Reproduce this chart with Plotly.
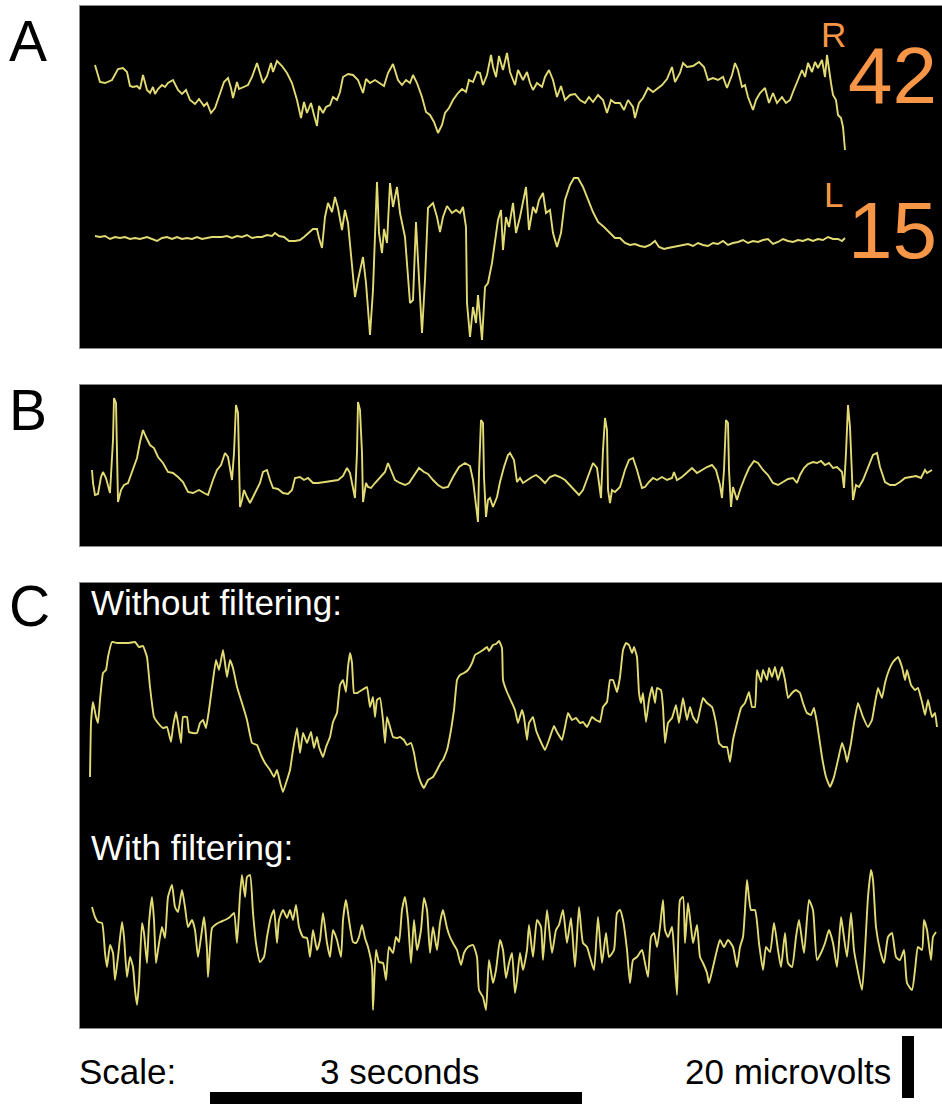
import plotly.graph_objects as go

# ---------------- data ----------------
FS = 124.0            # samples per second (time base)
GAIN = 20.0 / 62.0    # microvolts per count

# Panel A, right channel
A_R_SAMPLES = [15,20,25,32,38,43,47,50,53,57,60,63,67,70,73,75,78,82,85,88,93,98,102,106,110,115,119,124,127,131,135,139,144,148,151,153,157,159,164,168,172,177,180,183,187,191,193,197,202,207,212,217,221,224,227,231,234,237,239,243,246,250,253,257,260,263,268,273,278,283,286,290,295,300,304,308,313,318,322,326,330,333,337,342,346,350,354,358,362,365,369,373,378,382,386,389,393,397,400,403,407,411,413,416,419,423,427,430,435,438,443,447,450,453,457,462,465,469,473,477,481,485,490,495,500,505,509,513,518,523,527,531,535,540,544,548,553,555,559,563,568,573,577,582,587,592,595,600,603,607,613,619,624,628,633,638,643,647,652,655,658,662,665,668,673,676,680,685,689,693,697,702,706,710,713,717,722,725,728,732,735,738,742,745,747,751,753,756,758,761,763,765]
A_R_COUNTS = [25,8,7,10,21,22,18,4,3,4,1,15,0,-3,3,-4,1,5,3,7,10,0,-4,0,-10,-14,-9,-16,-13,-23,-18,-7,8,12,2,-8,8,1,3,5,13,27,17,7,14,27,18,29,24,17,7,-10,-28,-12,-23,-13,-25,-36,-16,-23,-17,-15,-7,-10,-2,13,16,15,10,-3,11,7,10,7,4,17,26,10,5,10,7,15,7,-7,-22,-25,-32,-43,-35,-23,-18,-10,-3,1,-2,10,8,18,17,5,15,35,23,13,34,20,37,18,5,20,10,18,7,0,7,3,13,20,10,-7,4,-10,-5,-4,-10,-13,-7,-12,-5,-10,-23,-10,-13,-13,-20,-10,-17,-28,-13,-8,2,-2,1,5,11,23,8,17,27,23,24,28,23,10,12,10,13,2,15,27,20,3,5,-7,-20,-10,-3,2,-13,-3,-13,-7,-13,-10,-2,7,20,13,27,18,28,22,30,13,35,7,-5,-10,-25,-28,-37,-60]

# Panel A, left channel
A_L_SAMPLES = [15,20,25,30,35,40,45,50,55,60,67,72,77,82,87,92,97,102,107,112,117,122,127,132,137,142,147,152,157,162,167,172,177,182,187,192,195,199,204,209,215,220,224,229,233,237,239,242,245,248,252,255,258,262,265,268,272,275,278,283,286,290,293,297,299,302,304,307,310,313,317,320,325,330,333,336,338,342,345,348,353,357,360,363,367,372,376,380,383,386,387,390,393,396,398,402,405,408,412,415,418,421,423,426,429,433,436,440,443,446,449,453,456,459,463,466,470,473,477,481,485,490,494,498,503,507,513,518,524,530,535,540,545,550,555,560,565,570,575,579,584,588,593,598,603,608,613,618,623,628,633,638,643,648,653,658,663,668,673,678,683,688,693,698,703,708,713,718,723,728,733,738,743,748,753,758,762,765]
A_L_COUNTS = [1,0,1,-2,0,-1,0,-2,-1,-2,0,-2,-4,-1,0,-2,0,-2,-1,-2,0,-2,-1,0,0,0,1,-1,1,0,2,-1,0,0,2,1,4,1,0,-4,-4,-3,0,4,8,8,-1,-11,20,34,25,40,29,7,27,14,-26,-60,-43,-20,-46,-98,-53,55,4,-16,8,-6,54,30,50,24,0,-66,-63,15,-23,-96,-43,29,34,20,5,20,31,24,27,24,30,10,-66,-100,-70,-86,-58,-103,-50,-46,-26,-3,17,27,-13,20,10,34,4,20,37,50,7,30,24,37,44,24,27,4,-10,4,37,52,59,59,50,40,25,15,10,4,-1,-1,-6,-8,-7,-9,-10,-8,-4,-10,-12,-11,-10,-9,-8,-7,-9,-6,-8,-9,-6,-7,-4,-8,-6,-5,-3,-6,-4,-5,-3,-2,-7,-5,-2,-4,-5,-3,-4,-2,-4,-2,-3,0,-2,-2,-4,-1]

# Panel B
B_SAMPLES = [12,13,15,18,21,23,26,28,30,33,34,36,37,38,41,44,48,53,57,60,63,66,70,74,78,83,88,93,98,103,108,113,119,124,128,133,137,141,145,148,152,154,156,158,159,160,162,164,167,170,175,180,183,187,190,193,198,203,208,212,215,220,224,228,233,238,245,252,258,263,267,270,273,275,277,278,280,282,283,286,288,291,295,300,305,308,311,315,320,325,329,334,339,344,348,353,358,363,368,373,379,385,390,393,396,398,399,401,403,404,406,408,410,413,417,420,424,428,430,434,437,440,443,447,452,456,460,465,470,475,480,485,490,495,499,503,508,513,517,519,521,523,525,527,528,530,532,535,540,545,549,553,557,562,565,569,573,577,582,587,592,594,597,602,607,612,617,622,627,632,636,640,642,644,646,648,649,651,653,657,660,665,669,674,678,683,688,693,698,703,708,713,717,720,724,728,733,737,741,745,749,753,757,762,764,766,768,770,772,773,776,779,783,788,793,797,800,805,810,815,820,825,830,836,841,845,847,852]
B_COUNTS = [10,-3,-15,-14,3,8,2,-5,-13,40,82,77,27,-22,-10,-5,-3,10,22,38,50,43,35,32,23,17,8,7,3,-2,-12,-13,-10,-13,-15,0,10,15,27,23,0,27,75,67,10,-27,-20,-10,-17,-23,-13,-3,8,10,0,-8,-9,-13,-14,-10,2,3,0,2,-3,-3,-2,-1,0,4,12,7,-8,-18,28,78,70,27,-22,-3,-7,-8,-3,3,8,17,10,0,-3,-5,-3,4,12,8,6,0,-5,-8,-7,3,13,17,14,0,-23,-42,7,60,57,3,-37,-20,-18,-27,-17,-2,13,25,27,20,-2,2,-3,0,3,5,2,-3,3,5,3,0,-5,-10,-15,-10,3,17,12,-3,-18,30,62,50,-10,-23,-10,-12,-7,10,20,22,10,-8,-7,-2,2,0,3,0,2,8,0,3,8,12,7,10,13,15,10,-5,-18,10,60,57,10,-27,-7,-20,-10,3,12,19,17,10,5,-3,-5,-2,1,2,-3,5,12,16,18,17,19,15,17,12,13,8,-8,27,75,53,0,-20,-5,-7,0,13,25,27,13,-2,-5,-5,-2,2,3,4,2,10,7,10]

# Panel C, without filtering
C_RAW_SAMPLES = [10,11,13,16,18,20,23,26,28,32,37,42,48,55,59,63,67,70,74,78,83,87,91,93,96,98,101,103,107,109,113,117,120,123,126,129,133,136,139,143,145,147,150,153,157,162,167,172,177,181,185,190,194,197,200,203,207,210,213,217,220,223,227,231,234,237,239,243,246,250,253,257,260,263,266,268,270,272,274,277,282,287,290,293,295,297,300,303,305,307,310,313,317,320,324,327,331,334,337,341,344,348,353,357,361,363,367,371,374,377,380,384,388,392,395,400,403,407,409,413,416,419,422,423,427,432,435,438,442,444,447,449,453,456,460,465,469,474,477,482,485,488,492,496,500,503,507,512,516,520,523,527,530,533,537,540,543,546,549,552,554,557,559,561,563,566,569,572,575,577,581,583,585,588,592,596,599,603,607,610,613,617,620,623,627,632,636,639,643,647,650,653,657,661,665,669,672,675,677,681,683,687,689,692,695,698,702,705,708,712,716,720,723,727,731,734,737,742,746,750,754,758,762,765,767,771,774,778,783,788,792,795,798,802,805,809,813,818,822,825,827,831,835,838,842,845,848,852,855,857]
C_RAW_COUNTS = [-57,-3,18,3,-3,20,47,50,63,78,77,77,77,78,73,74,63,33,3,-3,-8,-7,-22,-7,8,-3,-23,3,3,-12,-13,-13,-3,0,-8,10,40,60,50,70,57,43,60,52,33,17,0,-23,-25,-35,-43,-50,-57,-50,-62,-72,-60,-50,-30,-8,-33,-13,-23,-12,-28,-17,-27,-37,-27,-17,-2,7,35,40,28,53,67,57,27,27,30,33,13,23,3,20,22,0,-23,3,-7,-17,-18,-17,-20,-25,-23,-33,-50,-63,-68,-60,-57,-50,-42,-40,-30,-10,10,40,45,47,50,57,65,68,70,73,69,75,76,79,72,40,28,17,10,-3,10,3,-20,-3,3,-10,-20,-30,-20,-6,-12,-20,-7,7,0,2,-3,-2,-7,3,0,-2,13,18,40,40,28,43,70,77,75,67,73,63,27,17,27,-2,20,33,17,32,30,13,-23,-3,2,15,-3,22,0,13,3,-3,10,22,17,13,-3,-23,-27,-27,-42,-20,-3,12,17,28,13,13,50,38,50,40,52,43,53,40,53,40,22,27,30,27,17,7,5,12,-3,-37,-57,-67,-57,-40,-23,-32,-42,-23,-3,17,3,-7,0,17,32,22,37,50,58,63,53,40,50,35,30,32,18,5,20,3,7,-7]

# Panel C, with filtering
C_FILT_SAMPLES = [12,15,18,22,25,27,30,33,35,38,42,44,47,50,53,55,57,59,62,64,67,69,72,74,76,78,82,85,88,92,95,98,102,105,108,112,115,118,122,124,127,128,132,135,140,145,150,154,157,160,162,165,167,170,173,176,180,184,187,191,194,197,199,203,207,210,213,216,219,223,227,230,233,237,240,243,247,250,253,257,261,263,266,269,273,276,279,282,285,288,292,293,296,299,303,306,309,313,316,319,322,325,328,331,334,337,341,344,347,350,353,357,360,363,367,370,373,377,381,384,388,393,397,399,403,406,409,413,416,420,423,426,429,432,435,437,440,443,447,449,453,457,461,463,467,472,476,479,483,487,491,495,499,503,507,510,514,518,522,526,529,534,537,540,543,547,550,553,557,562,565,568,571,574,577,580,583,585,588,592,594,597,600,603,605,608,611,613,617,620,623,627,629,633,637,640,644,648,653,657,660,663,665,667,671,675,679,683,686,690,694,698,701,705,708,712,716,719,724,729,733,737,741,745,749,753,757,761,763,767,771,774,777,782,785,788,791,793,796,800,804,808,812,816,820,824,827,832,835,838,842,844,847,851,853,856]
C_FILT_COUNTS = [33,23,18,17,-13,-27,-5,-13,-40,-17,18,3,-37,-17,-27,-50,-65,-43,17,7,-23,17,43,20,-23,-10,13,2,43,55,33,28,50,33,13,20,10,-17,10,23,-10,-37,12,15,18,20,23,27,-3,45,65,43,63,65,27,-3,-22,-17,3,23,30,-3,20,30,22,30,20,35,13,3,2,-17,10,-10,0,27,-3,-17,10,0,-17,20,40,20,-2,-3,3,15,2,-7,-27,-70,-10,-22,-23,-40,-7,-13,3,-2,30,43,20,-23,20,-10,10,42,30,-13,13,-10,17,30,12,3,-3,-10,-25,-13,-7,-5,-17,-50,-57,-70,-20,-43,-30,0,-10,-38,-23,-13,-53,-40,-13,-30,-10,15,-17,20,13,-20,30,-13,10,15,30,-3,22,-27,33,-3,-7,-17,-30,23,-23,7,-17,-10,27,30,20,-10,-43,-20,-17,-10,-23,-37,3,7,-7,13,40,10,3,13,-10,-55,40,43,-3,37,13,-3,15,-17,-23,-33,-43,-27,-10,0,-7,0,-7,-27,-7,3,30,60,30,30,-3,-30,-7,-12,17,-10,-27,7,-23,-27,3,20,-13,40,30,-20,-13,-3,10,-3,-27,23,10,-17,27,-10,-27,-50,-10,43,70,60,13,-10,-23,3,7,-17,-20,-10,-43,-50,-30,-7,-10,20,10,-20,3,8]

# text
PANEL_LETTERS = ["A", "B", "C"]
CHANNEL_NAMES = ["R", "L"]
CHANNEL_SCORES = ["42", "15"]
C_TITLES = ["Without filtering:", "With filtering:"]
SCALE_SECONDS = 3
SCALE_MICROVOLTS = 20

# ---------------- layout geometry (pixels) ----------------
W, H = 942, 1104
PANELS = {"A": (80, 6, 942, 348), "B": (80, 385, 942, 546), "C": (80, 583, 942, 1028)}
LINE = "rgb(226,219,116)"
FONT = "Liberation Sans, Arial, Helvetica, sans-serif"
ORANGE = "#F79646"

fig = go.Figure()
axis_ids = {"A": "", "B": "2", "C": "3"}

def add_trace(panel, samples, counts, baseline_px, smooth=0.0):
    x0, y0, x1, y1 = PANELS[panel]
    off = (y1 - baseline_px) * GAIN
    line = dict(color=LINE, width=1.9)
    if smooth:
        line.update(shape="spline", smoothing=smooth)
    fig.add_trace(go.Scatter(
        x=[s / FS for s in samples],
        y=[c * GAIN + off for c in counts],
        mode="lines", line=line,
        xaxis="x" + axis_ids[panel], yaxis="y" + axis_ids[panel],
        hoverinfo="skip", showlegend=False))

add_trace("A", A_R_SAMPLES, A_R_COUNTS, 90)
add_trace("A", A_L_SAMPLES, A_L_COUNTS, 237)
add_trace("B", B_SAMPLES, B_COUNTS, 480)
add_trace("C", C_RAW_SAMPLES, C_RAW_COUNTS, 720, smooth=0.3)
add_trace("C", C_FILT_SAMPLES, C_FILT_COUNTS, 940, smooth=0.5)

layout = dict(width=W, height=H, margin=dict(l=0, r=0, t=0, b=0),
              paper_bgcolor="white", plot_bgcolor="black", showlegend=False)
for p, (x0, y0, x1, y1) in PANELS.items():
    sid = axis_ids[p]
    layout["xaxis" + sid] = dict(domain=[x0 / W, x1 / W], range=[0, (x1 - x0) / FS],
                                 showgrid=False, zeroline=False, showticklabels=False, ticks="",
                                 showline=True, linecolor="#8a8a8a", linewidth=1, mirror=True,
                                 fixedrange=True, anchor="y" + sid)
    layout["yaxis" + sid] = dict(domain=[1 - y1 / H, 1 - y0 / H], range=[0, (y1 - y0) * GAIN],
                                 showgrid=False, zeroline=False, showticklabels=False, ticks="",
                                 showline=True, linecolor="#8a8a8a", linewidth=1, mirror=True,
                                 fixedrange=True, anchor="x" + sid)
fig.update_layout(**layout)

def ann(text, x, y, size, color="black", xanchor="left"):
    fig.add_annotation(text=text, x=x / W, y=1 - y / H, xref="paper", yref="paper",
                       xanchor=xanchor, yanchor="middle", showarrow=False,
                       font=dict(family=FONT, size=size, color=color))

# panel letters
for letter, yc in zip(PANEL_LETTERS, [41, 410, 606]):
    ann(letter, 7, yc, 57)
# channel labels
ann(CHANNEL_NAMES[0], 819, 34, 35, ORANGE)
ann(CHANNEL_SCORES[0], 846, 76, 80, ORANGE)
ann(CHANNEL_NAMES[1], 822, 195, 35, ORANGE)
ann(CHANNEL_SCORES[1], 846, 231, 80, ORANGE)
# panel C titles
ann(C_TITLES[0], 89, 602, 35, "white")
ann(C_TITLES[1], 89, 847, 35, "white")
# scale
ann("Scale:", 77, 1071, 35)
ann(f"{SCALE_SECONDS} seconds", 400, 1071, 35, xanchor="center")
ann(f"{SCALE_MICROVOLTS} microvolts", 893, 1071, 35, xanchor="right")

# scale bars
bar_start_s = (210 - 80) / FS
fig.add_shape(type="rect", xref="x3", yref="paper",
              x0=bar_start_s, x1=bar_start_s + SCALE_SECONDS,
              y0=0, y1=12 / H, fillcolor="black", line=dict(width=0))
uv_px = SCALE_MICROVOLTS / GAIN
fig.add_shape(type="rect", xref="paper", yref="paper",
              x0=902 / W, x1=914 / W, y0=1 - 1098 / H, y1=1 - 1098 / H + uv_px / H,
              fillcolor="black", line=dict(width=0))

fig.write_html("out.html", config={"displayModeBar": False},
               post_script="document.body.style.margin='0';document.body.style.overflow='hidden';")
